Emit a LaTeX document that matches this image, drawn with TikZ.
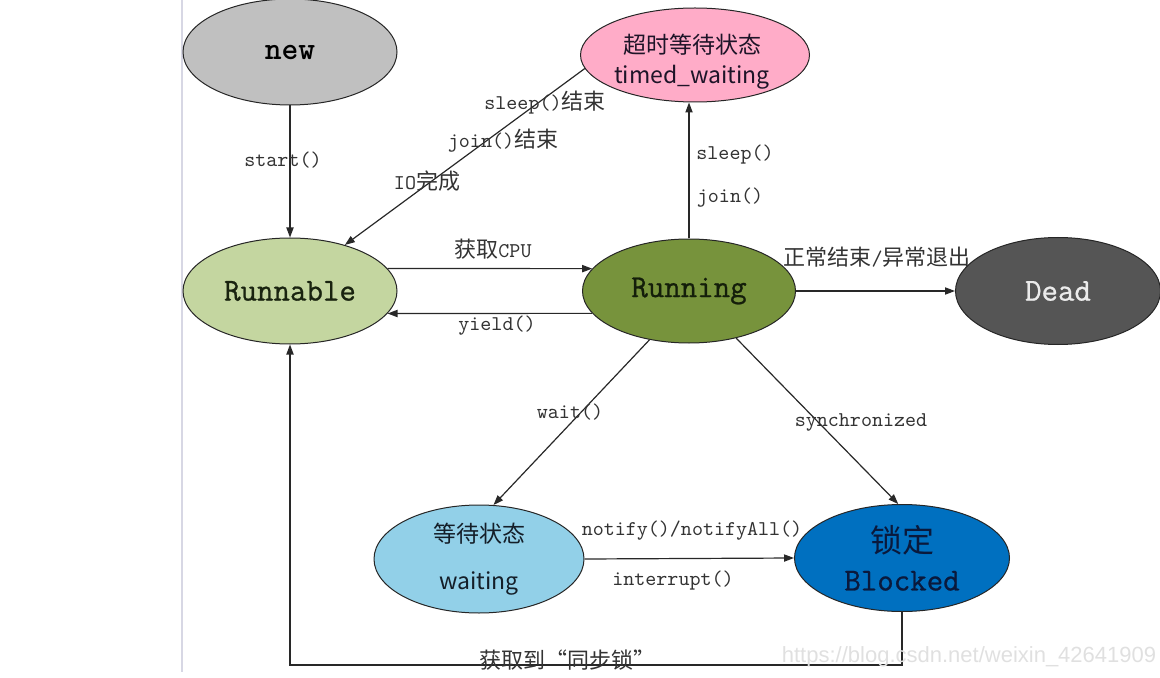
\documentclass[tikz,border=0pt]{standalone}
\usepackage{fontspec}
\newfontfamily\cjk{Noto Sans CJK SC}
\newfontfamily\wmfont{Liberation Sans}
\newfontfamily\nodemono[FakeBold=0.8]{Latin Modern Mono}
\usetikzlibrary{shapes.geometric,arrows.meta}
\definecolor{cNew}{RGB}{192,192,192}
\definecolor{cRunnable}{RGB}{196,214,160}
\definecolor{cRunning}{RGB}{119,147,60}
\definecolor{cDead}{RGB}{85,85,85}
\definecolor{cTimed}{RGB}{255,172,200}
\definecolor{cWait}{RGB}{146,208,232}
\definecolor{cBlocked}{RGB}{0,112,192}
\definecolor{cEdge}{RGB}{40,40,40}
\newcommand\zh[1]{{\cjk\fontsize{11}{12}\selectfont #1}}
\begin{document}
\begin{tikzpicture}[x=0.5pt,y=-0.5pt,
  state/.style={ellipse,draw=black!85,line width=0.5pt,inner sep=0pt,align=center},
  bigtxt/.style={font=\fontsize{16}{18}\selectfont\nodemono},
  sanstxt/.style={font=\cjk\fontsize{11.5}{14}\selectfont,align=center,inner sep=0pt},
  lbl/.style={font=\fontsize{10.5}{12}\selectfont\ttfamily,text=black!80,inner sep=0pt},
  conn/.style={draw=cEdge,line width=0.6pt,-{Triangle[length=5pt,width=3.6pt]}}]
\useasboundingbox (0,0) rectangle (1160,678);
\coordinate (lt) at (182,0);
\coordinate (lb) at (182,672);
\draw[draw={rgb,255:red,215;green,215;blue,228},line width=0.6pt] (lt) -- (lb);
% states
\node[state,fill=cNew,minimum width=107pt,minimum height=53pt,font=\fontsize{16}{18}\selectfont\ttfamily\bfseries] (new) at (290,52) {new};
\node[state,fill=cRunnable,minimum width=107pt,minimum height=53pt,bigtxt,text={rgb,255:red,25;green,35;blue,15}] (runnable) at (290,291) {Runnable};
\node[state,fill=cRunning,minimum width=106.5pt,minimum height=52pt,bigtxt,text={rgb,255:red,20;green,30;blue,10}] (running) at (689,291) {Running};
\node[state,fill=cDead,minimum width=102.5pt,minimum height=53.5pt,bigtxt,text={rgb,255:red,235;green,235;blue,235}] (dead) at (1058,291) {Dead};
\node[state,fill=cTimed,minimum width=114.5pt,minimum height=47pt] (timed) at (695,55) {};
\node[sanstxt,text={rgb,255:red,30;green,20;blue,40}] (timedtxt) at (692,62) {超时等待状态\\[1pt]timed\_waiting};
\node[state,fill=cWait,minimum width=105pt,minimum height=54pt,sanstxt,text={rgb,255:red,20;green,30;blue,40}] (waiting) at (479,559) {等待状态\\[9.5pt]waiting};
\node[state,fill=cBlocked,minimum width=107.5pt,minimum height=53.5pt,bigtxt,text={rgb,255:red,10;green,25;blue,60}] (blocked) at (902,558) {{\cjk\fontsize{16}{18}\selectfont 锁定}\\[1pt]Blocked};
% connectors
\coordinate (loop) at (290,665);
\draw[conn] (new.south) -- (runnable.north);
\draw[conn] (timed.187) -- (runnable.40);
\draw[conn] (running.north) -- (running.north |- timed.south);
\draw[conn] (runnable.13) -- (running.167);
\draw[conn] (running.193) -- (runnable.347);
\draw[conn] (running.east) -- (dead.west);
\draw[conn] (running.231) -- (waiting.75);
\draw[conn] (running.315) -- (blocked.94);
\draw[conn] (waiting.east) -- (blocked.west);
\draw[conn] (blocked.south) |- (loop) -- (runnable.south);
% labels
\node[lbl] (l1) at (283,160) {start()};
\node[lbl] (l2) at (545,103) {sleep()\zh{结束}};
\node[lbl] (l3) at (503,141) {join()\zh{结束}};
\node[lbl] (l4) at (427,181) {IO\zh{完成}};
\node[lbl] (l5) at (735,155) {sleep()};
\node[lbl] (l6) at (730,198) {join()};
\node[lbl] (l7) at (493,249) {\zh{获取}CPU};
\node[lbl] (l8) at (497,326) {yield()};
\node[lbl] (l9) at (877,257) {\zh{正常结束}/\zh{异常退出}};
\node[lbl] (l10) at (570,412) {wait()};
\node[lbl] (l11) at (861,422) {synchronized};
\node[lbl] (l12) at (692,531) {notify()/notifyAll()};
\node[lbl] (l13) at (673,581) {interrupt()};
\node[lbl] (l14) at (567,660) {\zh{获取到“同步锁”}};
\node[font=\wmfont\fontsize{11}{12}\selectfont,text=black!12,inner sep=0pt] (wm) at (969,657) {https://blog.csdn.net/weixin\_42641909};
\end{tikzpicture}
\end{document}
